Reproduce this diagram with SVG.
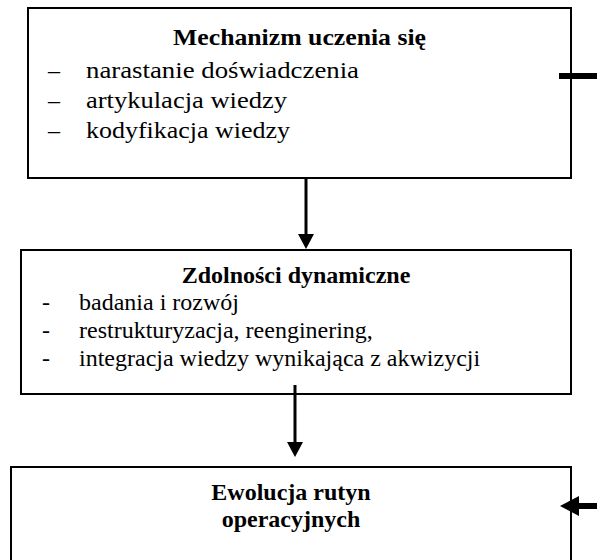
<svg xmlns="http://www.w3.org/2000/svg" width="597" height="560" viewBox="0 0 597 560">
<style>
.box{fill:#fff;stroke:#000;stroke-width:2}
.pal{font-family:"Liberation Serif","Times New Roman",serif;font-size:24px;fill:#000}
.tm{font-family:"Liberation Serif","Times New Roman",serif;font-size:24px;fill:#000}
.b{font-weight:bold}
.ln{stroke:#000;fill:none}
</style>
<rect width="597" height="560" fill="#fff"/>
<g id="node-mechanizm">
<rect class="box" x="28" y="8" width="543" height="170"/>
<text class="pal b" x="299.5" y="45" text-anchor="middle" textLength="253" lengthAdjust="spacingAndGlyphs">Mechanizm uczenia się</text>
<text class="pal" x="48" y="78">–</text>
<text class="pal" x="86" y="78" textLength="273" lengthAdjust="spacingAndGlyphs">narastanie doświadczenia</text>
<text class="pal" x="48" y="108">–</text>
<text class="pal" x="86" y="108" textLength="201" lengthAdjust="spacingAndGlyphs">artykulacja wiedzy</text>
<text class="pal" x="48" y="138">–</text>
<text class="pal" x="86" y="138" textLength="204" lengthAdjust="spacingAndGlyphs">kodyfikacja wiedzy</text>
</g>
<g id="node-zdolnosci">
<rect class="box" x="21" y="250" width="550" height="144"/>
<text class="tm b" x="296" y="283" text-anchor="middle">Zdolności dynamiczne</text>
<text class="tm" x="42" y="310">-</text>
<text class="tm" x="79" y="310">badania i rozwój</text>
<text class="tm" x="42" y="338">-</text>
<text class="tm" x="79" y="338">restrukturyzacja, reenginering,</text>
<text class="tm" x="42" y="366">-</text>
<text class="tm" x="79" y="366">integracja wiedzy wynikająca z akwizycji</text>
</g>
<g id="node-ewolucja">
<rect class="box" x="11" y="467" width="560" height="100"/>
<text class="tm b" x="291" y="500" text-anchor="middle">Ewolucja rutyn</text>
<text class="tm b" x="291" y="527" text-anchor="middle">operacyjnych</text>
</g>
<g id="connectors">
<line class="ln" x1="306" y1="178" x2="306" y2="236" stroke-width="3"/>
<polygon points="298,234 314,234 306,249" fill="#000"/>
<line class="ln" x1="295" y1="385" x2="295" y2="444" stroke-width="3"/>
<polygon points="287,442 303,442 295,457" fill="#000"/>
<line class="ln" x1="559" y1="76" x2="597" y2="76" stroke-width="6"/>
<line class="ln" x1="577" y1="506" x2="597" y2="506" stroke-width="6"/>
<polygon points="560,506 579,496 579,516" fill="#000"/>
</g>
</svg>
